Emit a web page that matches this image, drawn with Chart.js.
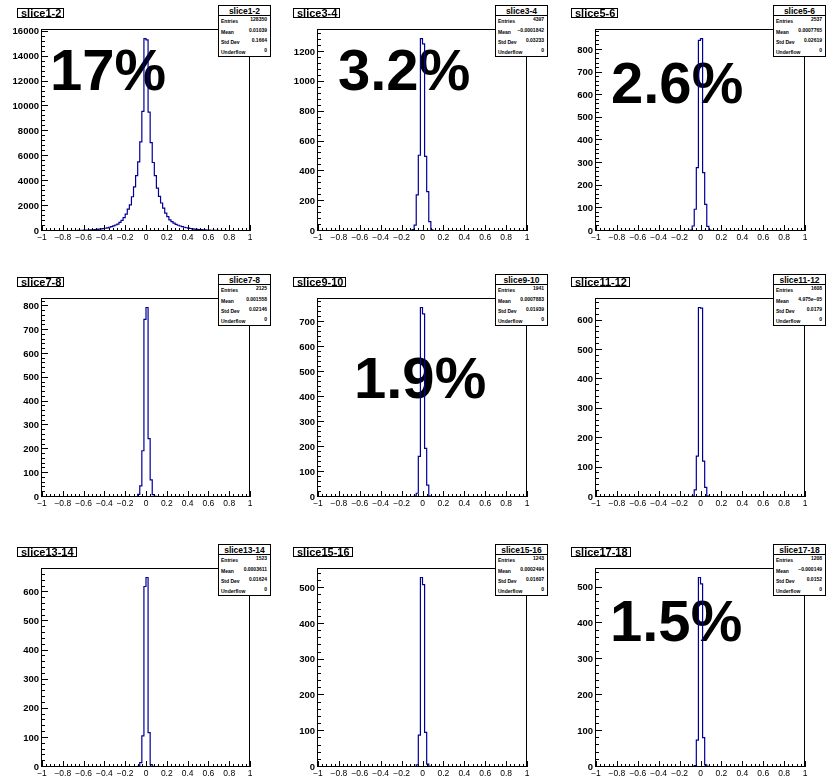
<!DOCTYPE html>
<html>
<head>
<meta charset="utf-8">
<script src="https://cdn.jsdelivr.net/npm/chart.js@4.4.0/dist/chart.umd.min.js"></script>
<style>
body { margin: 0; background: #fff; width: 829px; height: 778px; overflow: hidden; position: relative; font-family: "Liberation Sans", Arial, sans-serif; }
canvas { position: absolute; z-index: 1; }
.big { position: absolute; z-index: 0; font-weight: bold; font-size: 58px; line-height: 58px; color: #000; white-space: nowrap; }
.ttl { position: absolute; z-index: 2; background: #fff; border: 1px solid #000; font-weight: bold; font-size: 11px; line-height: 9px; height: 8px; padding: 0 2px 0 3px; white-space: nowrap; }
.stats { position: absolute; z-index: 2; background: #fff; border: 1px solid #000; width: 51px; height: 50px; }
.stats .hd { position: absolute; left: 0; right: 0; top: 1px; height: 8px; text-align: center; font-weight: bold; font-size: 8.5px; line-height: 8px; border-bottom: 1px solid #000; }
.stats .lb { position: absolute; left: 2px; font-weight: bold; font-size: 5px; line-height: 5px; }
.stats .vl { position: absolute; right: 3px; font-weight: bold; font-size: 5px; line-height: 5px; }
</style>
</head>
<body>
<script>
// histogram binning: 100 bins between -1 and 1
const xMin = -1;
const xMax = 1;
const nBins = 100;

const panelNames = ['slice1-2', 'slice3-4', 'slice5-6', 'slice7-8', 'slice9-10', 'slice11-12', 'slice13-14', 'slice15-16', 'slice17-18'];

// bin contents
const slice1_2 = [
    10, 12, 11, 14, 13, 16, 17, 18, 20, 22,
    24, 26, 28, 31, 34, 38, 42, 47, 52, 58,
    65, 72, 80, 90, 101, 114, 128, 145, 165, 190,
    220, 255, 300, 350, 410, 480, 560, 700, 860, 1080,
    1350, 1750, 2100, 2750, 3550, 4450, 5550, 7150, 9600, 15450,
    15350, 9550, 7100, 5500, 4450, 3450, 2780, 2250, 1830, 1430,
    1160, 900, 760, 640, 540, 460, 400, 345, 300, 260,
    228, 200, 176, 155, 137, 121, 107, 95, 85, 76,
    68, 61, 55, 50, 45, 41, 37, 34, 31, 28,
    26, 24, 22, 20, 19, 17, 16, 15, 14, 13
];
const slice3_4 = [1, 3, 9, 40, 242, 508, 1290, 1255, 500, 264, 63, 8, 3, 1];
const slice5_6 = [1, 4, 22, 96, 280, 842, 850, 258, 118, 20, 4, 1];
const slice7_8 = [2, 11, 47, 194, 745, 795, 245, 72, 10, 3];
const slice9_10 = [2, 4, 15, 163, 760, 734, 195, 48, 4, 2];
const slice11_12 = [3, 24, 139, 645, 643, 122, 33, 3];
const slice13_14 = [2, 15, 107, 620, 651, 118, 8, 2];
const slice15_16 = [1, 6, 89, 530, 510, 97, 8, 2];
const slice17_18 = [1, 4, 75, 528, 510, 82, 6, 2];
const seriesCounts = [slice1_2, slice3_4, slice5_6, slice7_8, slice9_10, slice11_12, slice13_14, slice15_16, slice17_18];
// index of the first listed bin (the rest of the bins are empty)
const firstBin = [0, 43, 44, 45, 45, 46, 46, 46, 46];

// stat box texts
const entries = ['128350', '4397', '2537', '2125', '1941', '1608', '1523', '1243', '1208'];
const means = ['0.01039', '\u22120.0001842', '0.0007765', '0.001558', '0.0007883', '4.975e\u221205', '0.0003611', '0.0002494', '\u22120.000149'];
const stdDevs = ['0.1664', '0.03233', '0.02619', '0.02146', '0.01939', '0.0179', '0.01624', '0.01607', '0.0152'];
const underflows = ['0', '0', '0', '0', '0', '0', '0', '0', '0'];
const percentLabels = ['17%', '3.2%', '2.6%', '', '1.9%', '', '', '', '1.5%'];

// axis tick steps
const yMajor = [2000, 200, 100, 100, 100, 100, 100, 100, 100];
const yMinor = [400, 40, 20, 20, 20, 20, 20, 20, 20];
const xMajor = 0.2;
const xMinor = 0.04;

// page layout
const colX = [0, 276, 552];
const colW = [276, 276, 277];
const frameX = [[42, 250], [318, 527], [596, 805]];
const rowY = [0, 269, 539];
const rowH = [260, 260, 239];
const frameY = [[29, 231], [298, 497], [568, 767]];
const bigPos = [[50, 41], [338, 41], [611, 54], null, [354, 349], null, null, null, [610, 592]];
const statRows = [16, 27, 37, 47];

function fmtX(v) {
    const r = Math.round(v * 10) / 10;
    if (r === 0) return '0';
    return (r < 0 ? '\u2212' : '') + String(Math.abs(r));
}

function isMultiple(v, step) {
    const q = v / step;
    return Math.abs(q - Math.round(q)) < 1e-6;
}

// ROOT style frame with inward tick marks
const frameTicks = {
    id: 'frameTicks',
    afterDatasetsDraw(chart) {
        const { ctx, chartArea: a, scales: { x, y } } = chart;
        ctx.save();
        ctx.strokeStyle = '#000';
        ctx.lineWidth = 1;
        ctx.beginPath();
        x.ticks.forEach(t => {
            const px = Math.round(x.getPixelForValue(t.value)) + 0.5;
            const len = t.label !== '' ? 6 : 3;
            ctx.moveTo(px, a.bottom);
            ctx.lineTo(px, a.bottom - len);
        });
        y.ticks.forEach(t => {
            const py = Math.round(y.getPixelForValue(t.value)) - 0.5;
            const len = t.label !== '' ? 6 : 3;
            ctx.moveTo(a.left, py);
            ctx.lineTo(a.left + len, py);
        });
        ctx.stroke();
        ctx.strokeRect(Math.round(a.left) - 0.5, Math.round(a.top) + 0.5, Math.round(a.width), Math.round(a.height) - 1);
        ctx.restore();
    }
};

function addDiv(cls, left, top, text) {
    const d = document.createElement('div');
    d.className = cls;
    d.style.left = left + 'px';
    d.style.top = top + 'px';
    if (text !== undefined) d.textContent = text;
    document.body.appendChild(d);
    return d;
}

seriesCounts.forEach((counts, p) => {
    const col = p % 3;
    const row = Math.floor(p / 3);
    const binW = (xMax - xMin) / nBins;

    const full = new Array(nBins).fill(0);
    counts.forEach((c, k) => { full[firstBin[p] + k] = c; });
    const points = full.map((c, b) => ({ x: xMin + b * binW, y: c }));
    points.push({ x: xMax, y: full[nBins - 1] });
    const yTop = Math.max(...full) * 1.05;

    const canvas = document.createElement('canvas');
    canvas.width = colW[col];
    canvas.height = rowH[row];
    canvas.style.left = colX[col] + 'px';
    canvas.style.top = rowY[row] + 'px';
    document.body.appendChild(canvas);

    new Chart(canvas, {
        type: 'line',
        data: {
            datasets: [{
                data: points,
                borderColor: '#000099',
                borderWidth: 1.2,
                pointRadius: 0,
                stepped: 'before',
                fill: false,
                tension: 0
            }]
        },
        options: {
            responsive: false,
            animation: false,
            devicePixelRatio: 1,
            layout: { padding: { top: frameY[row][0] - rowY[row], right: colX[col] + colW[col] - frameX[col][1], left: 0, bottom: 0 } },
            plugins: { legend: { display: false }, tooltip: { enabled: false } },
            scales: {
                x: {
                    type: 'linear',
                    min: xMin,
                    max: xMax,
                    grid: { display: false, drawTicks: false },
                    border: { display: false },
                    ticks: {
                        stepSize: xMinor,
                        autoSkip: false,
                        maxRotation: 0,
                        minRotation: 0,
                        padding: 2,
                        color: '#000',
                        font: { family: 'Liberation Sans', size: 8.5 },
                        callback: v => isMultiple(v, xMajor) ? fmtX(v) : ''
                    },
                    afterFit: s => {
                        s.height = rowY[row] + rowH[row] - frameY[row][1];
                        s.paddingLeft = 0;
                        s.paddingRight = 0;
                    }
                },
                y: {
                    min: 0,
                    max: yTop,
                    grid: { display: false, drawTicks: false },
                    border: { display: false },
                    ticks: {
                        stepSize: yMinor[p],
                        includeBounds: false,
                        autoSkip: false,
                        padding: 3,
                        color: '#000',
                        font: { family: 'Liberation Sans', size: 9.5, weight: 'bold' },
                        callback: v => isMultiple(v, yMajor[p]) ? String(v) : ''
                    },
                    afterFit: s => {
                        s.width = frameX[col][0] - colX[col];
                        s.paddingTop = 0;
                        s.paddingBottom = 0;
                    }
                }
            }
        },
        plugins: [frameTicks]
    });

    // title box
    addDiv('ttl', frameX[col][0] - 25, frameY[row][0] - 21, panelNames[p]);

    // stats box
    const st = addDiv('stats', frameX[col][1] - 32, frameY[row][0] - 24);
    const hd = document.createElement('div');
    hd.className = 'hd';
    hd.textContent = panelNames[p];
    st.appendChild(hd);
    const labels = ['Entries', 'Mean', 'Std Dev', 'Underflow'];
    const values = [entries[p], means[p], stdDevs[p], underflows[p]];
    labels.forEach((l, k) => {
        const a = document.createElement('div');
        a.className = 'lb';
        a.style.top = (statRows[k] - 3) + 'px';
        a.textContent = l;
        st.appendChild(a);
        const b = document.createElement('div');
        b.className = 'vl';
        b.style.top = (statRows[k] - 5) + 'px';
        b.textContent = values[k];
        st.appendChild(b);
    });

    // big percentage annotation
    if (percentLabels[p] && bigPos[p]) {
        addDiv('big', bigPos[p][0], bigPos[p][1], percentLabels[p]);
    }
});
</script>
</body>
</html>
